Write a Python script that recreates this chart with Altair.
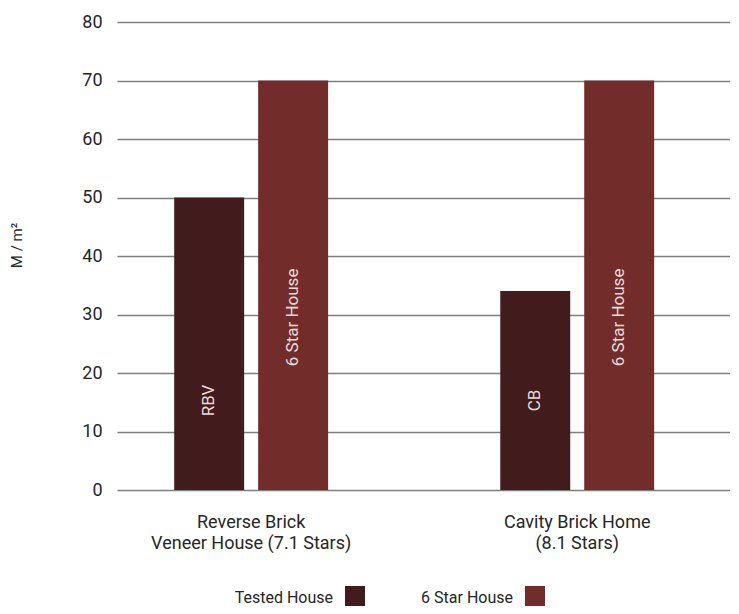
import altair as alt
import pandas as pd

groups = ["Reverse Brick\nVeneer House (7.1 Stars)", "Cavity Brick Home\n(8.1 Stars)"]
series = ["Tested House", "6 Star House"]
tested_values = [50, 34]
six_star_values = [70, 70]
tested_labels = ["RBV", "CB"]
six_star_labels = ["6 Star House", "6 Star House"]
colors = ["#421c1c", "#722d2b"]
y_ticks = [0, 10, 20, 30, 40, 50, 60, 70, 80]

rows = []
for i, g in enumerate(groups):
    rows.append({"group": g, "series": series[0], "value": tested_values[i], "label": tested_labels[i]})
    rows.append({"group": g, "series": series[1], "value": six_star_values[i], "label": six_star_labels[i]})
df = pd.DataFrame(rows)
legend_df = pd.DataFrame({"series": series, "color": colors})

FONT = "Roboto"
TXT = "#262626"

x = alt.X(
    "group:N",
    sort=groups,
    scale=alt.Scale(paddingInner=0.528, paddingOuter=0.204, align=0.43),
    axis=alt.Axis(
        title=None,
        labelExpr="split(datum.label, '\\n')",
        labelAngle=0,
        ticks=False,
        domain=False,
        labelPadding=23,
        labelFontSize=18,
        labelLineHeight=21,
        labelLimit=0,
        labelColor=TXT,
        labelFont=FONT,
    ),
)
xoff = alt.XOffset("series:N", sort=series, scale=alt.Scale(paddingInner=0.1667, paddingOuter=0))

bars = alt.Chart(df).mark_bar().encode(
    x=x,
    xOffset=xoff,
    y=alt.Y(
        "value:Q",
        scale=alt.Scale(domain=[0, 80], nice=False),
        axis=alt.Axis(
            values=y_ticks,
            title="M / m²",
            grid=True,
            gridColor="#7f7f7f",
            gridWidth=1.3,
            domain=False,
            ticks=False,
            labelPadding=15,
            labelFontSize=18,
            labelColor=TXT,
            labelFont=FONT,
            titleFontSize=15,
            titleFont=FONT,
            titleFontWeight="normal",
            titleColor=TXT,
            titleX=-93,
            titleY=223,
            titleAlign="center",
            titleAngle=270,
        ),
    ),
    color=alt.Color(
        "series:N",
        sort=series,
        scale=alt.Scale(domain=series, range=colors),
        legend=None,
    ),
)

text = alt.Chart(df).transform_calculate(
    ypos="datum.series == 'Tested House' ? 15.3 : 29.5"
).mark_text(angle=270, fontSize=17, font=FONT, color="#e6dcdc").encode(
    x=alt.X("group:N", sort=groups),
    xOffset=alt.XOffset("series:N", sort=series),
    y=alt.Y("ypos:Q"),
    text="label:N",
)

# manual legend (label to the left of its swatch)
legend_layers = []
legend_text_x = [216, 396]
legend_sq_x = [238, 418]
for i, s in enumerate(series):
    base = alt.Chart(legend_df).transform_filter(alt.datum.series == s)
    legend_layers.append(
        base.mark_text(align="right", baseline="alphabetic", fontSize=16, font=FONT, color=TXT).encode(
            x=alt.value(legend_text_x[i]), y=alt.value(581), text="series:N"
        )
    )
    legend_layers.append(
        base.mark_square(size=400, opacity=1, color=colors[i]).encode(
            x=alt.value(legend_sq_x[i]), y=alt.value(574)
        )
    )

chart = alt.layer(bars, text, *legend_layers).properties(
    width=613,
    height=468,
    autosize=alt.AutoSizeParams(type="none"),
    padding={"left": 109, "top": 14, "right": 0, "bottom": 116},
).configure_view(stroke=None)

chart.save("out.html", embed_options={"renderer": "svg", "actions": False})
